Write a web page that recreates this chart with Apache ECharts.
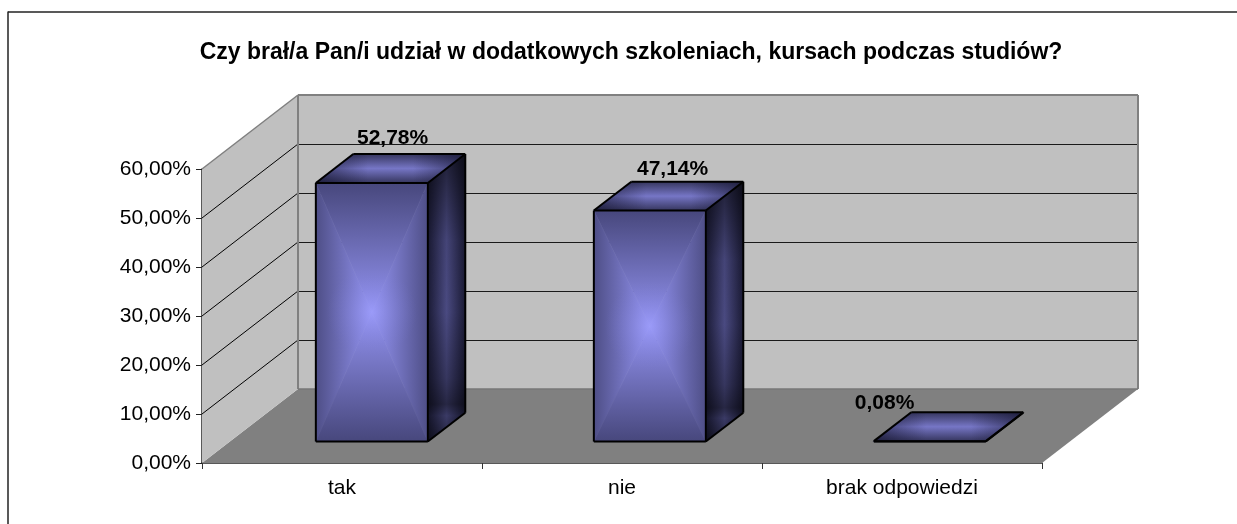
<!DOCTYPE html>
<html><head><meta charset="utf-8">
<style>html,body{margin:0;padding:0;background:#fff}#c{width:1237px;height:524px}</style>
<script src="https://cdn.jsdelivr.net/npm/echarts@6/dist/echarts.min.js"></script>
</head><body><div id="c"></div>
<script>
const titleText = 'Czy brał/a Pan/i udział w dodatkowych szkoleniach, kursach podczas studiów?';
const categories = ['tak', 'nie', 'brak odpowiedzi'];
const values = [52.78, 47.14, 0.08];
const valueLabels = ['52,78%', '47,14%', '0,08%'];
const ticks = [0, 10, 20, 30, 40, 50, 60];

// 3D projection: the full depth of the chart box in pixels, bar placement within it
const DEPTH = [96, -74];
const BAR_DEPTH = [0.29, 0.68];
const BAR_WIDTH_RATIO = 0.4;
const BAR_NUDGE = [2, 0, 0];
const LABEL_SHIFT = [[2, -16], [4, -12], [-64, -9]];
const FONT = '"Liberation Sans", Arial, sans-serif';

const chart = echarts.init(document.getElementById('c'), null, {renderer: 'canvas'});

function quad(points, fill, stroke, lw) {
  return {type: 'polygon', shape: {points}, style: {fill, stroke: stroke || null, lineWidth: lw || 0}, silent: true};
}
function line(a, b, stroke, lw) {
  return {type: 'line', shape: {x1: a[0], y1: a[1], x2: b[0], y2: b[1]}, style: {stroke, lineWidth: lw}, silent: true};
}
const LG = (x1, y1, x2, y2, stops) => new echarts.graphic.LinearGradient(x1, y1, x2, y2,
  stops.map(s => ({offset: s[0], color: s[1]})));

// Front face: colour runs from each edge in to the centre of the rectangle.
function frontFace(tl, tr, br, bl) {
  const c = [(tl[0] + br[0]) / 2, (tl[1] + br[1]) / 2];
  const stopsV = [[0, '#47477c'], [1, '#9494f2']];
  const stopsH = [[0, '#4e4e86'], [1, '#9494f2']];
  const tri = [
    [[tl, tr, c], LG(0, 0, 0, 1, stopsV)],
    [[bl, br, c], LG(0, 1, 0, 0, stopsV)],
    [[tl, bl, c], LG(0, 0, 1, 0, stopsH)],
    [[tr, br, c], LG(1, 0, 0, 0, stopsH)]
  ];
  const faces = tri.map(t => ({type: 'polygon', shape: {points: t[0]}, style: {fill: t[1], stroke: t[1], lineWidth: 0.6}, silent: true}));
  // soft glow over the centre, so the four sections blend as in the reference
  faces.push(quad([tl, tr, br, bl], new echarts.graphic.RadialGradient(0.5, 0.5, 0.4, [
    {offset: 0, color: 'rgba(160,160,255,0.55)'},
    {offset: 1, color: 'rgba(120,120,210,0)'}])));
  return faces;
}
function sideFace(pts) {
  return [
    quad(pts, LG(0, 0, 1, 0, [[0, '#1c1c38'], [0.5, '#4e4e88'], [1, '#1c1c38']])),
    quad(pts, LG(0, 0, 0, 1, [
      [0, 'rgba(0,0,0,0.62)'], [0.3, 'rgba(0,0,0,0.12)'], [0.55, 'rgba(0,0,0,0.05)'],
      [0.78, 'rgba(0,0,0,0.3)'], [0.87, 'rgba(0,0,0,0.5)'], [0.91, 'rgba(0,0,0,0.25)'], [1, 'rgba(0,0,0,0.55)']]))
  ];
}
function topFace(pts) {
  return [
    quad(pts, LG(0, 0, 0, 1, [[0, '#36365e'], [0.5, '#7676c6'], [1, '#36365e']])),
    quad(pts, LG(0, 0, 1, 0, [[0, 'rgba(15,15,40,0.6)'], [0.35, 'rgba(15,15,40,0)'], [0.65, 'rgba(15,15,40,0)'], [1, 'rgba(15,15,40,0.6)']]))
  ];
}

function renderBox(params, api) {
  const cs = params.coordSys;
  const x0 = cs.x, x1 = cs.x + cs.width, y0 = cs.y + cs.height, y1 = cs.y;
  const D = DEPTH;
  const shift = (p, k) => [p[0] + D[0] * k, p[1] + D[1] * k];
  const children = [];
  const BL = [x0, y0], BR = [x1, y0], TL = [x0, y1];
  const edge = '#808080';
  const crisp = y => Math.round(y) + 0.5;
  children.push(quad([BL, BR, shift(BR, 1), shift(BL, 1)], '#808080'));
  children.push(quad([BL, shift(BL, 1), shift(TL, 1), TL], '#c0c0c0'));
  children.push(quad([shift(BL, 1), shift(BR, 1), [x1 + D[0], y1 + D[1]], shift(TL, 1)], '#c0c0c0'));
  ticks.slice(1, -1).forEach(t => {
    const p = api.coord([0, t]);
    const a = [x0, p[1]];
    const b = shift(a, 1), e = [x1 + D[0], b[1]];
    children.push(line(a, b, '#000', 1));
    children.push(line([b[0], crisp(b[1])], [e[0], crisp(b[1])], '#1a1a1a', 1));
  });
  const bt = [x1 + D[0], y1 + D[1]], tb = shift(TL, 1);
  children.push(line(TL, tb, edge, 1.5));
  children.push(line(shift(BL, 1), tb, edge, 2));
  children.push(line(tb, bt, edge, 2));
  children.push(line(bt, shift(BR, 1), edge, 2));
  children.push(line(shift(BL, 1), shift(BR, 1), '#777', 1.5));
  return {type: 'group', children};
}

function renderBar(params, api) {
  const i = api.value(0), v = api.value(1);
  const base = api.coord([i, 0]), top = api.coord([i, v]);
  const w = api.size([1, 0])[0] * BAR_WIDTH_RATIO;
  const off = k => [DEPTH[0] * k, DEPTH[1] * k];
  const f = off(BAR_DEPTH[0]), b = off(BAR_DEPTH[1]);
  const xl = base[0] - w / 2 + BAR_NUDGE[i], xr = base[0] + w / 2 + BAR_NUDGE[i];
  const P = (x, y, o) => [x + o[0], y + o[1]];
  const fBL = P(xl, base[1], f), fBR = P(xr, base[1], f), fTR = P(xr, top[1], f), fTL = P(xl, top[1], f);
  const bBR = P(xr, base[1], b), bTR = P(xr, top[1], b), bTL = P(xl, top[1], b);
  const children = [];
  children.push(...sideFace([fBR, bBR, bTR, fTR]));
  children.push(...frontFace(fTL, fTR, fBR, fBL));
  children.push(...topFace([fTL, fTR, bTR, bTL]));
  [[fBL, fBR], [fBR, fTR], [fTR, fTL], [fTL, fBL], [fBR, bBR], [bBR, bTR], [bTR, fTR], [bTR, bTL], [bTL, fTL]]
    .forEach(s => children.push(line(s[0], s[1], '#000', 2)));
  const cx = (fTL[0] + bTR[0]) / 2;
  const ls = LABEL_SHIFT[i];
  children.push({type: 'text', silent: true, style: {
    text: valueLabels[i], x: cx + ls[0], y: bTR[1] + ls[1],
    align: 'center', verticalAlign: 'middle',
    font: 'bold 21px ' + FONT, fill: '#000'}});
  return {type: 'group', children};
}

chart.setOption({
  animation: false,
  backgroundColor: '#fff',
  title: {
    text: titleText, left: 626, top: 36, textAlign: 'center',
    textStyle: {fontFamily: FONT, fontWeight: 'bold', fontSize: 23, color: '#000'}
  },
  graphic: [
    {type: 'line', shape: {x1: 8, y1: 12, x2: 1237, y2: 12}, style: {stroke: '#222', lineWidth: 1.5}, silent: true, z: -1},
    {type: 'line', shape: {x1: 8, y1: 11.5, x2: 8, y2: 524}, style: {stroke: '#222', lineWidth: 1.5}, silent: true, z: -1}
  ],
  grid: {left: 202, top: 169, width: 840, height: 294, containLabel: false},
  xAxis: {
    type: 'category', data: categories,
    axisLine: {lineStyle: {color: '#222', width: 1.5}},
    axisTick: {show: true, length: 6, alignWithLabel: false, lineStyle: {color: '#333', width: 1}},
    axisLabel: {color: '#000', fontSize: 21, margin: 15, fontFamily: FONT},
    splitLine: {show: false}
  },
  yAxis: {
    type: 'value', min: 0, max: 60, interval: 10,
    axisLine: {show: true, lineStyle: {color: '#222', width: 1.5}},
    axisTick: {show: true, length: 6, lineStyle: {color: '#222', width: 1}},
    axisLabel: {color: '#000', fontSize: 21, margin: 11, fontFamily: FONT,
      formatter: v => v.toFixed(2).replace('.', ',') + '%'},
    splitLine: {show: false}
  },
  series: [
    {type: 'custom', coordinateSystem: 'cartesian2d', renderItem: renderBox, data: [[0, 0]], clip: false, z: 1, silent: true},
    {type: 'custom', coordinateSystem: 'cartesian2d', renderItem: renderBar,
      data: values.map((v, i) => [i, v]), encode: {x: 0, y: 1}, clip: false, z: 2, silent: true}
  ]
});
</script></body></html>
